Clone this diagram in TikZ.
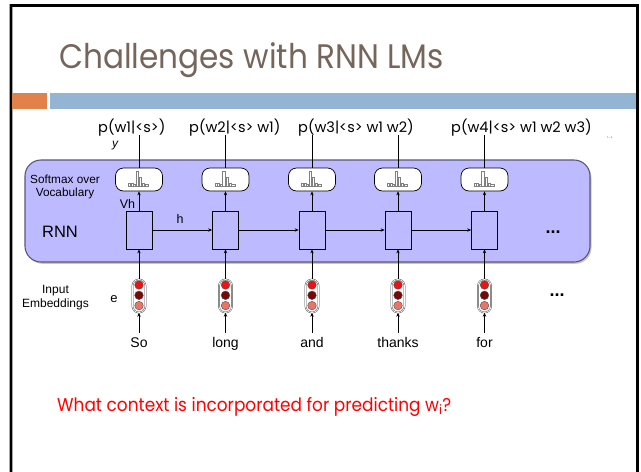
\documentclass[tikz,border=0pt]{standalone}
\usepackage{fontspec}
\setmainfont{Liberation Sans}
\newfontfamily\gothic{Poppins}
\usetikzlibrary{arrows.meta,shadows}

\definecolor{titlebrown}{RGB}{118,101,91}
\definecolor{barorange}{RGB}{224,130,74}
\definecolor{barblue}{RGB}{147,180,210}
\definecolor{lav}{RGB}{190,186,255}
\definecolor{lavedge}{RGB}{88,88,120}
\definecolor{embA}{RGB}{235,20,20}
\definecolor{embB}{RGB}{120,8,8}
\definecolor{embC}{RGB}{232,118,104}

\tikzset{
  arr/.style={line width=0.6pt, -{Stealth[length=4pt,width=3.4pt]}},
  link/.style={line width=0.6pt},
  smbox/.style={draw=black, line width=0.7pt, fill=white, rounded corners=8pt,
    minimum width=47pt, minimum height=23pt, inner sep=0pt},
  rnnbox/.style={draw=black, line width=0.7pt, fill=lav,
    minimum width=26pt, minimum height=38pt, inner sep=0pt},
  capsule/.style={draw=black!70, line width=0.45pt, double=white, double distance=0.7pt,
    fill=white, rounded corners=6.3pt, minimum width=13pt, minimum height=33pt, inner sep=0pt},
  dot/.style={draw=black!70, line width=0.4pt},
  bar/.style={draw=black!50, fill=white, line width=0.5pt},
  word/.style={font=\fontsize{14}{16}\selectfont, text height=10pt, text depth=3pt,
    inner xsep=0pt, inner ysep=4pt},
  lbl/.style={font=\fontsize{12}{14}\selectfont, inner sep=0pt},
  plbl/.style={font=\gothic\fontsize{14.5}{16}\selectfont, inner sep=0pt, anchor=base west},
}

\begin{document}
\begin{tikzpicture}[x=1pt,y=-1pt]
\useasboundingbox (0,0) rectangle (641,472);
\fill[white] (0,0) rectangle (641,472);

% slide frame
\draw[line width=3.6pt, black!35] (11,480) |- (637.5,5.5) -- (637.5,480);
\draw[line width=2.5pt, black] (11,480) |- (637.5,5.5) -- (637.5,480);

% title and the two header bars
\node[anchor=base west, inner sep=0pt, text=titlebrown,
  font=\gothic\fontsize{34}{40}\selectfont] (title) at (59,68)
  {\scalebox{0.915}[1]{Challenges with RNN LMs}};
\fill[barorange] (12.3,93) rectangle (47,109);
\fill[barblue] (50,93) rectangle (636.2,109);

% recurrent layer panel
\node[draw=lavedge, line width=1.1pt, fill=lav, rounded corners=16pt,
  minimum width=565pt, minimum height=102pt, inner sep=0pt,
  drop shadow={shadow xshift=1.5pt, shadow yshift=-1.8pt, opacity=0.45}]
  (panel) at (307.5,211) {};

% time steps
\foreach \i/\cx/\w in {1/139/So, 2/225.5/long, 3/312/and, 4/398/thanks, 5/484.5/for} {
  \node[smbox] (sm\i) at (\cx,179.5) {};
  \node[rnnbox] (r\i) at (\cx,230) {};
  \node[capsule] (e\i) at (\cx,296) {};
  \fill[embA] (\cx,285) circle (4.3);
  \draw[dot] (\cx,285) circle (4.3);
  \fill[embB] (\cx,295.3) circle (4.3);
  \draw[dot] (\cx,295.3) circle (4.3);
  \fill[embC] (\cx,305.6) circle (4.3);
  \draw[dot] (\cx,305.6) circle (4.3);
  \node[word] (w\i) at (\cx,343.5) {\w};
  \coordinate (top\i) at (\cx,135);
  % little histogram inside the softmax box
  \begin{scope}[shift={(sm\i.center)}]
    \draw[bar] (-10.5,7.2) rectangle (-8.7,4.2);
    \draw[bar] (-8,7.2) rectangle (-6.2,4.2);
    \draw[bar] (-5.5,7.2) rectangle (-3.7,4.6);
    \draw[bar] (-3,7.2) rectangle (-0.6,-7.8);
    \draw[bar] (0.3,7.2) rectangle (2.7,-2.3);
    \draw[bar] (3.5,7.2) rectangle (5.3,4.2);
    \draw[bar] (6.2,7.2) rectangle (9.4,4.6);
  \end{scope}
  \draw[arr] (r\i.north) -- (sm\i.south);
  \draw[arr] (e\i.north) -- (r\i.south);
  \draw[arr] (w\i.north) -- (e\i.south);
  \draw[link] (sm\i.north) -- (top\i);
}
\foreach \i/\j in {1/2, 2/3, 3/4, 4/5} {
  \draw[arr] (r\i.east) -- (r\j.west);
}

% output distributions
\node[plbl] (p1) at (98,132) {p(w1|<s>)};
\node[plbl] (p2) at (189,132) {p(w2|<s> w1)};
\node[plbl] (p3) at (298,132) {p(w3|<s> w1 w2)};
\node[plbl] (p4) at (451,132) {p(w4|<s> w1 w2 w3)};
\node[font=\fontsize{3}{3}\selectfont, text=black!60, inner sep=0pt] (tm1) at (610,137) {t\,--\,1};

% side labels
\node[lbl, font=\itshape\fontsize{12}{14}\selectfont] (ylab) at (115,146) {y};
\node[lbl, font=\fontsize{11.8}{13}\selectfont, align=center] (smlab) at (65,187) {Softmax over\\Vocabulary};
\node[lbl, font=\fontsize{12.5}{14}\selectfont] (vh) at (127.5,203.5) {Vh};
\node[lbl, font=\fontsize{12.5}{14}\selectfont] (hlab) at (180,218.5) {h};
\node[lbl, font=\fontsize{16.5}{18}\selectfont] (rnnlab) at (60,232) {RNN};
\node[lbl, font=\bfseries\fontsize{18}{18}\selectfont] (dots1) at (553,232) {...};
\node[lbl, align=center] (inlab) at (55.5,297.5) {Input\\Embeddings};
\node[lbl, font=\fontsize{13}{15}\selectfont] (elab) at (114,299) {e};
\node[lbl, font=\bfseries\fontsize{18}{18}\selectfont] (dots2) at (557,295) {...};

% question
\node[anchor=base west, inner sep=0pt, text=red, font=\gothic\fontsize{18.5}{22}\selectfont]
  (question) at (57,411) {\scalebox{0.915}[1]{What context is incorporated for predicting w\textsubscript{i}?}};
\end{tikzpicture}
\end{document}
